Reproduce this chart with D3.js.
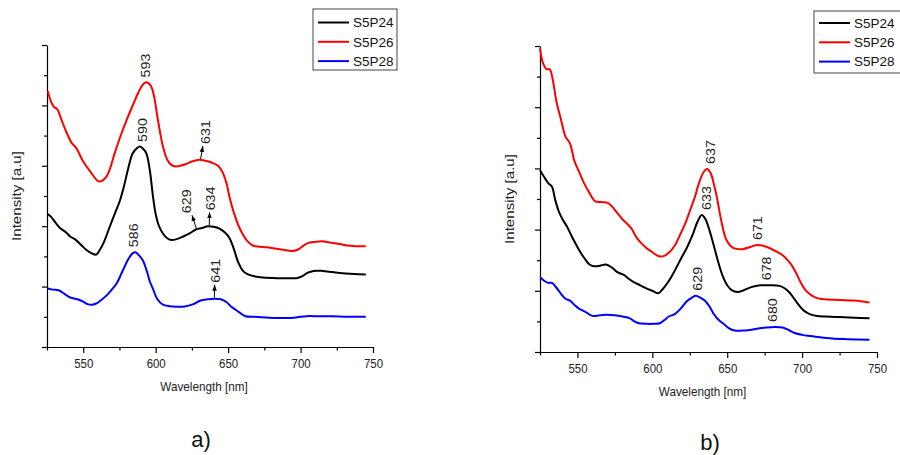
<!DOCTYPE html>
<html>
<head>
<meta charset="utf-8">
<script src="https://cdnjs.cloudflare.com/ajax/libs/d3/7.8.5/d3.min.js"></script>
<style>
  body { margin: 0; background: #fff; }
  svg { display: block; font-family: "Liberation Sans", Arial, sans-serif; }
  .axis path, .axis line { stroke: #000; stroke-width: 1.2px; }
</style>
</head>
<body>
<script>
'use strict';

var seriesNames = ["S5P24", "S5P26", "S5P28"];
var seriesColors = ["#000000", "#ff0000", "#0000ff"];
var xMajor = [550, 600, 650, 700, 750];
var xMinor = [525, 575, 625, 675, 725];
var yMajor = [0, 1, 2, 3, 4, 5];
var yMinor = [0.5, 1.5, 2.5, 3.5, 4.5];
var xTitle = "Wavelength [nm]";
var yTitle = "Intensity [a.u]";
var panelLetters = ["a)", "b)"];

// panel a)
var wlA24 = [525.5, 528, 530.5, 534, 538, 541, 545, 549, 552, 556, 559, 561.5, 564.5, 568, 572, 575, 578, 581, 584, 587, 589, 591, 593.5, 596, 598, 600, 602, 605, 608, 611, 615, 619, 624, 628, 632, 636, 640, 644, 648, 651, 654, 657, 660, 663, 668, 674, 684, 692, 697, 701, 705, 709, 715, 722, 729, 737, 745];
var valA24 = [2.20, 2.15, 2.07, 1.97, 1.90, 1.83, 1.77, 1.68, 1.61, 1.55, 1.53, 1.61, 1.75, 1.97, 2.22, 2.40, 2.65, 2.95, 3.20, 3.29, 3.32, 3.29, 3.21, 2.92, 2.52, 2.20, 2.02, 1.88, 1.80, 1.77, 1.79, 1.83, 1.89, 1.95, 1.97, 2.00, 1.99, 1.96, 1.89, 1.80, 1.62, 1.40, 1.27, 1.21, 1.17, 1.15, 1.14, 1.14, 1.14, 1.17, 1.23, 1.26, 1.26, 1.24, 1.22, 1.21, 1.20];
var wlA26 = [525.5, 528, 530, 532, 535, 538, 542, 545, 550, 555, 561, 566, 572, 576, 580, 584, 588, 591, 593, 595, 597, 599, 601, 603, 605, 608, 611, 614, 617, 621, 625, 630, 635, 639, 643, 646, 649, 651, 654, 657, 660, 663, 667, 672, 680, 688, 694, 698, 701, 705, 710, 715, 720, 726, 732, 738, 745];
var valA26 = [4.24, 4.05, 3.97, 3.94, 3.76, 3.58, 3.38, 3.30, 3.07, 2.90, 2.74, 2.82, 3.23, 3.51, 3.76, 3.99, 4.21, 4.34, 4.38, 4.37, 4.31, 4.14, 3.84, 3.56, 3.32, 3.10, 3.01, 2.99, 3.00, 3.03, 3.07, 3.10, 3.08, 3.05, 3.00, 2.90, 2.70, 2.48, 2.22, 2.02, 1.87, 1.76, 1.68, 1.66, 1.64, 1.61, 1.59, 1.61, 1.66, 1.72, 1.74, 1.75, 1.73, 1.71, 1.68, 1.67, 1.67];
var wlA28 = [525.5, 529, 533, 537, 541, 546, 550, 553, 556, 559, 562, 566, 570, 573, 577, 581, 584, 586, 588, 591, 594, 596, 598, 601, 605, 612, 620, 626, 631, 636, 641, 645, 649, 652, 655, 658, 662, 668, 676, 684, 690, 697, 704, 712, 722, 732, 745];
var valA28 = [0.97, 0.95, 0.94, 0.88, 0.82, 0.79, 0.75, 0.71, 0.70, 0.72, 0.77, 0.85, 0.96, 1.05, 1.25, 1.45, 1.55, 1.57, 1.53, 1.44, 1.25, 1.08, 0.97, 0.80, 0.70, 0.67, 0.67, 0.71, 0.77, 0.79, 0.80, 0.79, 0.74, 0.67, 0.62, 0.57, 0.51, 0.50, 0.49, 0.48, 0.48, 0.49, 0.51, 0.51, 0.51, 0.50, 0.50];

// panel b)
var wlB24 = [525, 528, 530.5, 533, 535, 537.5, 540, 543, 546, 549, 552, 555, 558, 561, 565, 569, 573, 577, 581, 584, 587, 592, 596, 600, 604, 607, 611, 615, 619, 623, 627, 630, 633, 635.5, 638, 641, 644, 647, 650, 653, 657, 661, 666, 672, 678, 685, 689, 692, 695, 698, 701, 705, 710, 716, 725, 735, 745];
var valB24 = [2.97, 2.85, 2.76, 2.70, 2.50, 2.30, 2.17, 2.05, 1.90, 1.76, 1.63, 1.52, 1.43, 1.40, 1.41, 1.43, 1.38, 1.30, 1.26, 1.20, 1.15, 1.09, 1.04, 1.00, 0.96, 1.03, 1.16, 1.33, 1.52, 1.70, 1.92, 2.12, 2.24, 2.17, 2.00, 1.74, 1.47, 1.24, 1.09, 1.01, 0.98, 1.01, 1.06, 1.09, 1.09, 1.08, 1.03, 0.96, 0.86, 0.76, 0.68, 0.62, 0.59, 0.58, 0.57, 0.56, 0.55];
var wlB26 = [525, 527, 529.5, 531.5, 533.5, 536, 539, 542, 545, 548, 551, 554, 558, 562, 566, 570, 573, 576, 580, 583, 586, 589.5, 593, 596, 600, 603, 605.5, 608, 611, 615, 619, 622, 625, 628.5, 631, 634, 636.5, 639, 641, 643, 646, 649.5, 654, 660, 666, 670, 676, 683, 687, 690, 693, 696, 699, 702, 706, 710, 715, 725, 735, 745];
var valB26 = [4.96, 4.72, 4.62, 4.62, 4.45, 4.09, 3.80, 3.52, 3.41, 3.12, 2.95, 2.78, 2.60, 2.46, 2.45, 2.44, 2.38, 2.29, 2.17, 2.10, 2.02, 1.87, 1.77, 1.70, 1.63, 1.58, 1.56, 1.57, 1.62, 1.74, 1.94, 2.10, 2.30, 2.54, 2.75, 2.93, 2.99, 2.92, 2.75, 2.54, 2.15, 1.83, 1.70, 1.68, 1.72, 1.75, 1.72, 1.64, 1.58, 1.51, 1.42, 1.29, 1.14, 1.02, 0.93, 0.88, 0.86, 0.85, 0.84, 0.81];
var wlB28 = [525, 528, 530.5, 533, 536, 539, 542, 545, 548, 551, 555, 560, 565, 570, 575, 580, 585, 588, 591, 596, 601, 605, 608, 611, 615, 619, 623, 626.5, 629, 632, 635, 638, 641, 644, 647.5, 651, 655, 660, 665, 670, 676, 682, 687, 691, 695, 700, 706, 712, 720, 730, 745];
var valB28 = [1.22, 1.16, 1.13, 1.13, 1.05, 0.95, 0.87, 0.84, 0.77, 0.71, 0.66, 0.59, 0.60, 0.61, 0.60, 0.58, 0.55, 0.50, 0.47, 0.46, 0.46, 0.47, 0.52, 0.58, 0.62, 0.71, 0.83, 0.89, 0.92, 0.89, 0.84, 0.75, 0.62, 0.53, 0.46, 0.39, 0.35, 0.35, 0.36, 0.38, 0.40, 0.41, 0.40, 0.36, 0.31, 0.28, 0.26, 0.24, 0.22, 0.21, 0.20];

// peak labels: series index, wavelength on the curve, wavelength of the label, arrow or not
var peaksA = [
    { text: "593", s: 1, at: 593, textAt: 593, arrow: false },
    { text: "590", s: 0, at: 589.5, textAt: 591, arrow: false },
    { text: "586", s: 2, at: 586, textAt: 584.8, arrow: false },
    { text: "631", s: 1, at: 631, textAt: 634.5, arrow: true },
    { text: "629", s: 0, at: 628, textAt: 621.5, arrow: true },
    { text: "634", s: 0, at: 637, textAt: 637.5, arrow: true },
    { text: "641", s: 2, at: 640.5, textAt: 641, arrow: true }
];
var peaksB = [
    { text: "637", s: 1, at: 636.5, textAt: 638.5, arrow: false },
    { text: "633", s: 0, at: 633, textAt: 636, arrow: false },
    { text: "671", s: 1, at: 670.5, textAt: 670.5, arrow: false },
    { text: "678", s: 0, at: 676, textAt: 676, arrow: false },
    { text: "629", s: 2, at: 629, textAt: 630, arrow: false },
    { text: "680", s: 2, at: 680.5, textAt: 680.5, arrow: false }
];

var svg = d3.select("body").append("svg")
    .attr("width", 900)
    .attr("height", 455);

svg.append("rect").attr("width", 900).attr("height", 455).attr("fill", "#fff");

svg.append("defs").append("marker")
    .attr("id", "arrow")
    .attr("viewBox", "0 -3 6 6")
    .attr("refX", 6)
    .attr("refY", 0)
    .attr("markerWidth", 6)
    .attr("markerHeight", 6)
    .attr("markerUnits", "userSpaceOnUse")
    .attr("orient", "auto")
    .append("path")
    .attr("d", "M0,-2.3L6,0L0,2.3Z")
    .attr("fill", "#000");

function valueAt(wl, vals, nm) {
    var i = d3.bisectLeft(wl, nm);
    if (i <= 0) return vals[0];
    if (i >= wl.length) return vals[vals.length - 1];
    var t = (nm - wl[i - 1]) / (wl[i] - wl[i - 1]);
    return vals[i - 1] + t * (vals[i] - vals[i - 1]);
}

function drawPanel(p) {
    var x = d3.scaleLinear().domain([525, 750]).range([p.left, p.right]);
    var y = d3.scaleLinear().domain([0, 5]).range([p.bottom, p.top]);
    var g = svg.append("g");

    // x axis, major + minor
    g.append("g")
        .attr("class", "axis")
        .attr("transform", "translate(0," + p.bottom + ")")
        .call(d3.axisBottom(x).tickValues(xMajor).tickSize(6).tickSizeOuter(0).tickPadding(6).tickFormat(d3.format("d")))
        .selectAll("text")
        .attr("transform", "scale(0.88,1)")
        .style("font-size", "13px")
        .style("font-family", "'Liberation Sans', Arial, sans-serif")
        .attr("fill", "#222");

    g.append("g")
        .attr("class", "axis")
        .attr("transform", "translate(0," + p.bottom + ")")
        .call(d3.axisBottom(x).tickValues(xMinor).tickSize(3.5).tickFormat(""))
        .select(".domain").remove();

    // y axis, no labels
    g.append("g")
        .attr("class", "axis")
        .attr("transform", "translate(" + p.left + ",0)")
        .call(d3.axisLeft(y).tickValues(yMajor).tickSize(5).tickSizeOuter(0).tickFormat(""));

    g.append("g")
        .attr("class", "axis")
        .attr("transform", "translate(" + p.left + ",0)")
        .call(d3.axisLeft(y).tickValues(yMinor).tickSize(3).tickFormat(""))
        .select(".domain").remove();

    var line = d3.line()
        .x(function(d) { return x(d[0]); })
        .y(function(d) { return y(d[1]); })
        .curve(d3.curveCatmullRom.alpha(0.5));

    p.series.forEach(function(s, i) {
        g.append("path")
            .datum(d3.zip(s[0], s[1]))
            .attr("fill", "none")
            .attr("stroke", seriesColors[i])
            .attr("stroke-width", 2)
            .attr("stroke-linejoin", "round")
            .attr("d", line);
    });

    // peak labels
    p.peaks.forEach(function(pk) {
        var s = p.series[pk.s];
        var px = x(pk.at);
        var py = y(valueAt(s[0], s[1], pk.at));
        var tx = x(pk.textAt);
        var ty = py - 5;
        if (pk.arrow) {
            var ex = px + (tx - px) * 0.45;
            var ey = py - 14;
            g.append("line")
                .attr("x1", px).attr("y1", py - 1)
                .attr("x2", ex).attr("y2", ey)
                .attr("stroke", "#000")
                .attr("stroke-width", 1)
                .attr("marker-end", "url(#arrow)");
            ty = ey - 2;
        }
        g.append("text")
            .attr("transform", "translate(" + tx + "," + ty + ") rotate(-90) scale(1.1,1)")
            .attr("dy", "0.35em")
            .attr("text-anchor", "start")
            .style("font-size", "13px")
            .attr("fill", "#222")
            .text(pk.text);
    });

    // axis titles
    g.append("text")
        .attr("transform", "translate(" + ((p.left + p.right) / 2 - 6) + "," + (p.bottom + 44) + ") scale(0.9,1)")
        .attr("text-anchor", "middle")
        .style("font-size", "13px")
        .attr("fill", "#222")
        .text(xTitle);

    g.append("text")
        .attr("transform", "translate(" + (p.left - 31) + "," + ((p.top + p.bottom) / 2) + ") rotate(-90) scale(1.12,1)")
        .attr("dy", "0.35em")
        .attr("text-anchor", "middle")
        .style("font-size", "13.5px")
        .attr("fill", "#222")
        .text(yTitle);

    // legend
    var lg = g.append("g").attr("transform", "translate(" + p.legend.x + "," + p.legend.y + ")");
    lg.append("rect")
        .attr("width", p.legend.w)
        .attr("height", p.legend.h)
        .attr("fill", "#fff")
        .attr("stroke", "#444")
        .attr("stroke-width", 1);
    seriesNames.forEach(function(name, i) {
        var ly = p.legend.row0 + i * 19.3;
        lg.append("line")
            .attr("x1", 5).attr("x2", 36)
            .attr("y1", ly).attr("y2", ly)
            .attr("stroke", seriesColors[i])
            .attr("stroke-width", 2);
        lg.append("text")
            .attr("x", 40)
            .attr("y", ly)
            .attr("dy", "0.36em")
            .style("font-size", "13.5px")
            .attr("fill", "#111")
            .text(name);
    });

    // panel letter
    g.append("text")
        .attr("x", p.letter.x)
        .attr("y", p.letter.y)
        .attr("text-anchor", "middle")
        .style("font-size", "22px")
        .attr("fill", "#111")
        .text(p.letter.text);
}

drawPanel({
    left: 47, right: 373, top: 45, bottom: 347,
    series: [[wlA24, valA24], [wlA26, valA26], [wlA28, valA28]],
    peaks: peaksA,
    legend: { x: 313, y: 9, w: 84, h: 61, row0: 13.5 },
    letter: { x: 201, y: 447, text: panelLetters[0] }
});

drawPanel({
    left: 540, right: 877, top: 46, bottom: 352,
    series: [[wlB24, valB24], [wlB26, valB26], [wlB28, valB28]],
    peaks: peaksB,
    legend: { x: 814, y: 11, w: 92, h: 62, row0: 12 },
    letter: { x: 710, y: 450, text: panelLetters[1] }
});
</script>
</body>
</html>
